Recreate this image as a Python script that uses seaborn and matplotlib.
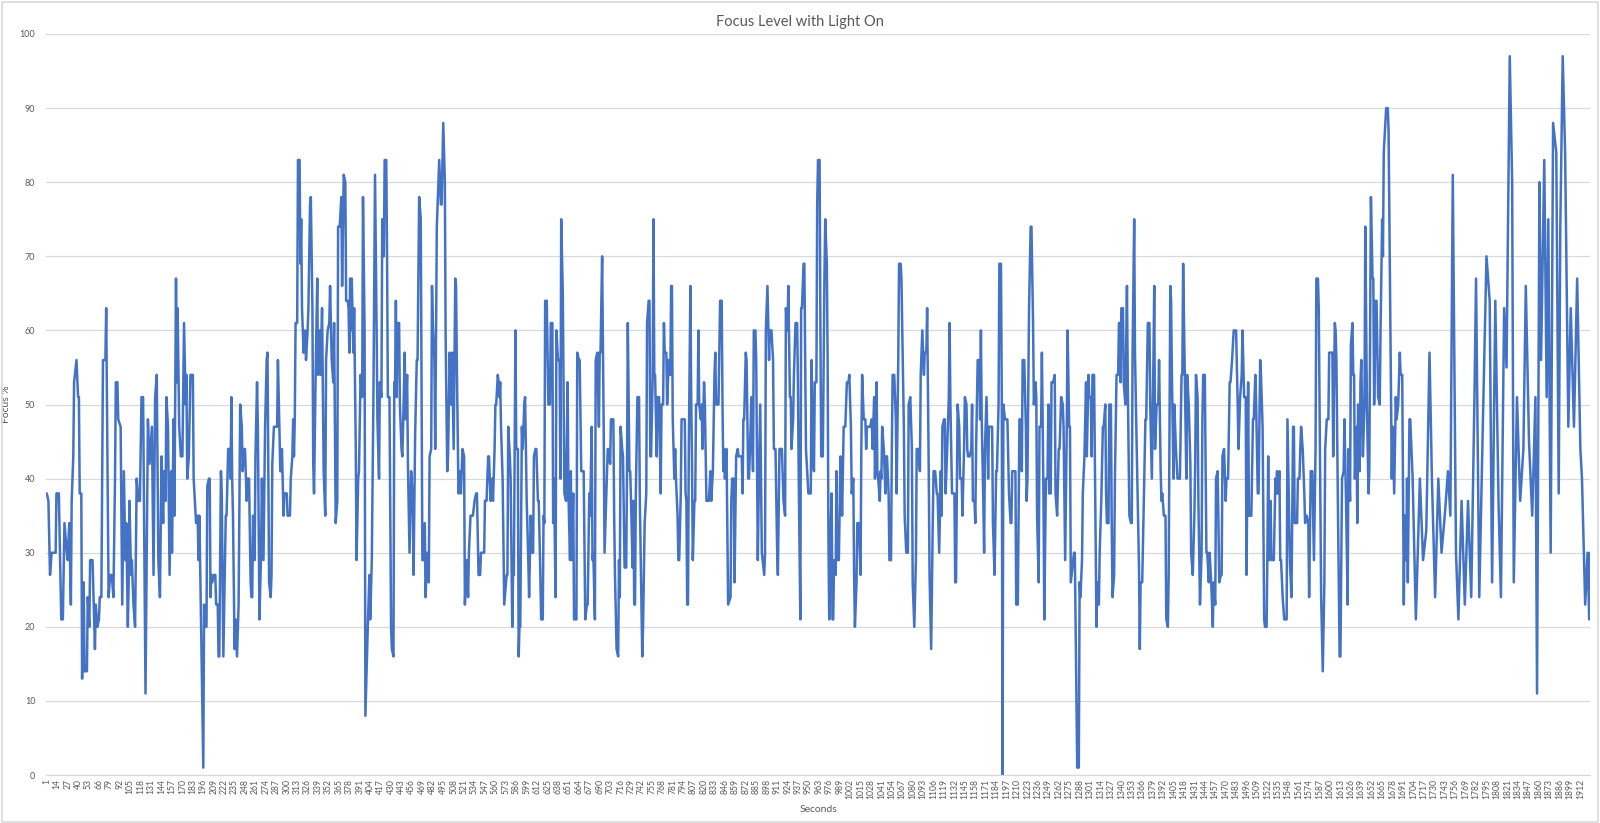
import numpy as np
import matplotlib

matplotlib.use('Agg')
import matplotlib.pyplot as plt
from matplotlib.patches import Rectangle
import seaborn as sns

# Readings taken off the chart: second of the recording and focus level (%)
seconds = [
    1, 3, 5, 7, 12, 13, 16, 19, 21, 23, 26, 27, 29, 31, 32, 34, 35, 38, 40, 41,
    42, 44, 45, 47, 48, 51, 52, 54, 55, 58, 61, 62, 64, 66, 67, 69, 71, 74, 75, 78,
    80, 82, 84, 86, 87, 89, 90, 93, 95, 97, 99, 100, 102, 103, 104, 106, 107, 109, 111, 113,
    115, 117, 119, 121, 124, 127, 129, 132, 134, 136, 138, 140, 142, 144, 146, 147, 149, 150, 152, 154,
    156, 157, 159, 160, 162, 163, 164, 166, 168, 170, 172, 174, 175, 176, 178,
    180, 183, 184, 187, 189, 190, 191, 192, 196, 197, 198, 200, 201, 203, 204, 205, 206, 207, 209, 211,
    212, 214, 215, 216, 218, 219, 221, 224, 225, 227, 229, 230, 231, 232, 233, 235, 236, 238, 240, 242,
    244, 245, 247, 248, 250, 251, 253, 255, 256, 257, 258, 260, 261, 263, 264, 266, 268, 269, 271, 273,
    275, 276, 278, 280, 281, 282, 284, 288, 289, 290, 292, 293, 294, 296, 297, 300, 301, 304, 305, 307,
    308, 309, 310, 311, 313, 314, 316, 317, 318, 319, 321, 323, 324, 326, 327, 329, 330, 332, 333, 334,
    336, 338, 339, 341, 342, 344, 346, 348, 349, 351, 353, 354, 356, 358, 359, 361, 363, 364, 366, 368,
    369, 371,
    373, 374, 376, 377, 378, 379, 380, 381, 383, 384, 386, 387, 389, 390, 392, 394, 395, 397, 398, 401,
    403, 404, 406, 408, 410, 412, 413, 415, 416, 418, 419, 421, 422, 424, 425, 426, 428, 430, 431, 433,
    434, 435, 436, 437, 438, 440, 441, 443, 444, 445, 447, 448, 450, 451, 453, 455, 457, 458, 460, 462,
    463, 465, 467, 468, 469, 471, 472, 473, 475, 477, 478, 480, 481, 482, 484, 485, 487, 488, 490, 492,
    493, 495, 497, 498, 500, 501, 503, 505, 506, 508, 510, 511, 512, 514, 516, 517, 519, 521, 522, 524,
    526, 527, 529, 532, 534, 536, 537, 539, 541, 542, 546, 547, 549, 551, 552, 554, 556, 557, 559, 560,
    561, 563,
    564, 565, 566, 567, 569, 571, 574, 575, 576, 578, 579, 581, 582, 583, 585, 586, 588, 589, 590, 591,
    593, 594, 596, 597, 599, 601, 602, 604, 606, 607, 608, 610, 611, 613, 614, 616, 617, 619, 620, 621,
    622, 624, 625, 626, 628, 629, 631, 632, 633, 635, 636, 638, 640, 641, 642, 644, 646, 648, 650, 651,
    653, 654, 655, 657, 658, 661, 662, 664, 665, 667, 670, 672, 674, 675, 677, 678, 680, 681, 682, 684,
    685, 687, 689, 690, 691, 693, 695, 696, 698, 700, 701, 703, 704, 707, 708, 709, 711, 713, 714, 715,
    716, 718, 719, 721, 723, 724, 725, 727, 728, 729, 731, 732, 733, 734, 735, 737, 739, 740, 742, 743,
    744, 746, 748, 749, 751, 752,
    753, 754, 756, 757, 758, 759, 761, 762, 764, 765, 766, 767, 769, 770, 771, 773, 774, 776, 778, 779,
    780, 781, 783, 784, 785, 787, 788, 789, 791, 792, 796, 797, 798, 799, 800, 801, 803, 804, 805, 806,
    808, 809, 810, 812, 813, 814, 816, 817, 818, 820, 821, 823, 826, 828, 829, 831, 833, 834, 835, 838,
    840, 842, 843, 844, 845, 846, 848, 849, 850, 853, 854, 855, 857, 858, 860, 862, 863, 867, 868, 869,
    870, 872, 873, 875, 876, 877, 879, 881, 882, 884, 885, 887, 888, 890, 892, 893, 895, 896, 897, 899,
    901, 902, 904, 906, 907, 909, 911, 912, 914, 917, 919, 921, 922, 924, 925, 927, 928, 929, 931, 932,
    934, 936, 937, 938, 940, 941,
    942, 944, 945, 946, 947, 949, 950, 953, 954, 956, 957, 958, 960, 961, 962, 964, 965, 966, 968, 970,
    971, 973, 974, 975, 976, 978, 979, 980, 981, 982, 984, 985, 986, 988, 990, 991, 992, 994, 996, 997,
    998, 1000, 1001, 1003, 1004, 1006, 1007, 1008, 1010, 1011, 1013, 1015, 1016, 1017, 1019, 1021, 1022, 1023, 1027, 1029,
    1030, 1032, 1033, 1035, 1036, 1037, 1039, 1040, 1041, 1042, 1044, 1046, 1047, 1048, 1050, 1051, 1053, 1054, 1055, 1057,
    1059, 1060, 1062, 1063, 1065, 1066, 1067, 1069, 1070, 1072, 1074, 1075, 1077, 1079, 1080, 1082, 1084, 1085, 1087, 1089,
    1090, 1092, 1094, 1095, 1097, 1098, 1100, 1101, 1103, 1105, 1106, 1108, 1110, 1111, 1113, 1115, 1116, 1117, 1119, 1120,
    1121, 1123, 1125, 1126, 1127, 1129, 1132,
    1133, 1134, 1136, 1138, 1139, 1141, 1142, 1144, 1145, 1147, 1148, 1149, 1151, 1153, 1154, 1155, 1157, 1158, 1159, 1161,
    1163, 1164, 1165, 1166, 1168, 1169, 1170, 1172, 1174, 1175, 1179, 1180, 1182, 1184, 1185, 1187, 1188, 1190, 1191, 1192,
    1193, 1195, 1198, 1200, 1202, 1203, 1204, 1208, 1209, 1211, 1213, 1214, 1216, 1217, 1219, 1221, 1222, 1223, 1225, 1227,
    1228, 1230, 1231, 1233, 1234, 1235, 1237, 1238, 1240, 1241, 1243, 1244, 1246, 1248, 1249, 1250, 1252, 1253, 1255, 1257,
    1258, 1260, 1262, 1263, 1265, 1267, 1268, 1270, 1272, 1273, 1275, 1276, 1277, 1279, 1281, 1282, 1285, 1287, 1288, 1289,
    1291, 1292, 1294, 1296, 1297, 1299, 1300, 1302, 1303, 1304, 1306, 1307, 1309, 1310, 1312, 1313, 1315, 1317, 1318, 1320,
    1321, 1322, 1324, 1325, 1327, 1328, 1329, 1331, 1332, 1334, 1336, 1337, 1338, 1339, 1340, 1342, 1343, 1345, 1347, 1348,
    1350, 1352, 1353, 1354, 1356, 1357, 1359, 1361, 1362, 1363, 1364, 1366, 1368, 1370, 1371, 1373, 1375, 1376, 1378, 1380,
    1381, 1382, 1384, 1386, 1387, 1389, 1390, 1391, 1393, 1395, 1396, 1398, 1399, 1401, 1402, 1403, 1405, 1406, 1408, 1410,
    1413, 1415, 1416, 1417, 1419, 1421, 1422, 1424, 1426, 1427, 1429, 1431, 1432, 1433, 1435, 1436, 1438, 1440, 1441, 1442,
    1444, 1446, 1447, 1449, 1450, 1452, 1454, 1455, 1457, 1458, 1460, 1461, 1462, 1464, 1465, 1466, 1468, 1470, 1471, 1473,
    1475, 1476, 1478, 1480, 1483, 1485, 1486, 1488, 1490, 1491, 1493, 1495, 1496, 1498, 1499, 1502, 1504, 1505, 1507, 1508,
    1510,
    1511, 1513, 1514, 1516, 1518, 1519, 1521, 1522, 1523, 1524, 1526, 1527, 1530, 1532, 1533, 1534, 1535, 1537, 1538, 1539,
    1541, 1543, 1546, 1547, 1549, 1550, 1552, 1554, 1555, 1556, 1559, 1560, 1562, 1563, 1564, 1566, 1568, 1569, 1571, 1573,
    1574, 1576, 1578, 1579, 1580, 1582, 1583, 1585, 1586, 1588, 1589, 1591, 1593, 1594, 1596, 1598, 1599, 1603, 1604, 1606,
    1607, 1608, 1610, 1612, 1613, 1615, 1617, 1618, 1620, 1622, 1623, 1625, 1626, 1628, 1629, 1630, 1631, 1633, 1634, 1635,
    1637, 1638, 1639, 1641, 1643, 1644, 1646, 1648, 1649, 1651, 1653, 1654, 1655, 1657, 1658, 1660, 1662, 1663, 1665, 1666,
    1667, 1670, 1672, 1673, 1675, 1677, 1678, 1680, 1682, 1683, 1685, 1687, 1688, 1690, 1692, 1693, 1695, 1696, 1697, 1699,
    1700,
    1703, 1707, 1712, 1716, 1720, 1724, 1727, 1731, 1735, 1739, 1743, 1747, 1750, 1753, 1757, 1760, 1764, 1768, 1772, 1776,
    1780, 1782, 1786, 1791, 1795, 1799, 1802, 1806, 1810, 1813, 1817, 1820, 1824, 1827, 1829, 1833, 1837, 1841, 1844, 1848,
    1852, 1856, 1858, 1861, 1863, 1867, 1870, 1872, 1875, 1878, 1882, 1885, 1887, 1890, 1893, 1897, 1900, 1904, 1908, 1912,
    1914, 1918, 1921, 1923, 1924,
]

focus = [
    38, 37, 27, 30, 30, 38, 38, 21, 21, 34, 30, 29, 34, 23, 37, 43, 53, 56, 51, 51,
    38, 38, 13, 26, 14, 14, 24, 20, 29, 29, 17, 23, 20, 21, 24, 24, 56, 56, 63, 24,
    27, 27, 24, 40, 53, 53, 48, 47, 23, 41, 29, 34, 20, 26, 37, 27, 29, 23, 20, 40,
    37, 37, 51, 51, 11, 48, 42, 47, 27, 51, 54, 29, 24, 43, 34, 41, 37, 51, 47, 27,
    41, 30, 48, 35, 67, 53, 63, 47, 43, 43, 61, 50, 54, 40, 43,
    54, 54, 40, 34, 35, 29, 35, 29, 1, 23, 20, 20, 39, 40, 40, 24, 27, 26, 27, 27,
    23, 23, 16, 16, 41, 38, 16, 35, 35, 44, 44, 40, 51, 40, 35, 17, 21, 16, 23, 50,
    47, 41, 44, 44, 37, 40, 40, 26, 24, 24, 35, 29, 43, 53, 47, 21, 30, 40, 29, 47,
    56, 57, 26, 24, 27, 42, 47, 47, 56, 51, 41, 41, 44, 35, 38, 38, 35, 35, 40, 43,
    48, 43, 48, 61, 61, 83, 83, 69, 75, 63, 57, 60, 56, 60, 63, 77, 78, 63, 42, 38,
    54, 67, 54, 60, 54, 63, 41, 35, 56, 60, 61, 66, 56, 53, 61, 34, 37, 74, 74, 78,
    66, 81,
    80, 64, 64, 63, 57, 67, 60, 67, 57, 63, 44, 29, 40, 41, 54, 51, 78, 60, 8, 20,
    27, 21, 29, 51, 81, 60, 48, 40, 53, 51, 75, 70, 83, 83, 70, 51, 51, 20, 17, 16,
    53, 53, 64, 51, 61, 61, 50, 44, 43, 47, 57, 48, 54, 42, 30, 41, 37, 27, 46, 56,
    56, 78, 75, 53, 29, 29, 34, 24, 30, 26, 43, 44, 66, 61, 56, 44, 74, 77, 83, 77,
    77, 88, 80, 59, 41, 43, 57, 50, 57, 44, 67, 66, 55, 38, 41, 38, 44, 43, 23, 29,
    24, 30, 35, 35, 37, 38, 38, 27, 27, 30, 30, 37, 37, 43, 43, 37, 40, 37, 44, 50,
    50, 54,
    53, 51, 53, 47, 40, 23, 27, 27, 47, 43, 40, 20, 27, 27, 60, 44, 44, 16, 20, 20,
    47, 44, 50, 51, 37, 29, 24, 35, 30, 30, 43, 44, 44, 37, 37, 27, 21, 21, 35, 34,
    64, 64, 57, 50, 50, 61, 61, 34, 40, 24, 60, 56, 56, 40, 75, 65, 38, 37, 53, 38,
    29, 41, 29, 38, 21, 21, 57, 56, 56, 41, 41, 21, 23, 23, 38, 35, 47, 29, 30, 21,
    56, 57, 47, 57, 57, 70, 46, 30, 37, 44, 44, 42, 48, 48, 35, 27, 17, 16, 29, 24,
    47, 44, 43, 28, 28, 41, 61, 41, 41, 37, 28, 37, 23, 23, 38, 51, 51, 37, 23, 16,
    20, 34, 38, 61, 64, 64,
    43, 43, 54, 75, 54, 54, 43, 51, 51, 44, 38, 50, 50, 61, 57, 57, 50, 56, 54, 66,
    66, 48, 40, 44, 40, 35, 29, 29, 38, 48, 48, 38, 37, 23, 23, 44, 66, 51, 42, 29,
    37, 37, 50, 50, 60, 50, 48, 50, 44, 53, 50, 37, 37, 41, 37, 41, 54, 57, 50, 50,
    64, 64, 50, 41, 44, 40, 44, 34, 23, 24, 37, 40, 40, 26, 43, 44, 43, 43, 38, 48,
    48, 57, 56, 40, 40, 43, 51, 41, 60, 60, 56, 29, 37, 50, 30, 29, 27, 30, 60, 66,
    56, 60, 60, 56, 44, 44, 31, 27, 44, 44, 37, 35, 63, 60, 66, 51, 51, 44, 48, 54,
    61, 61, 53, 40, 21, 63,
    63, 69, 69, 56, 44, 40, 38, 38, 56, 42, 41, 53, 53, 77, 83, 83, 60, 43, 43, 67,
    75, 69, 56, 32, 21, 34, 38, 21, 21, 29, 27, 41, 29, 29, 43, 41, 35, 47, 47, 50,
    53, 53, 54, 47, 38, 40, 27, 20, 26, 34, 34, 27, 44, 54, 48, 48, 44, 47, 47, 48,
    44, 51, 40, 53, 41, 40, 37, 41, 40, 47, 44, 38, 43, 43, 38, 29, 29, 44, 54, 54,
    48, 38, 56, 69, 69, 67, 60, 47, 35, 30, 30, 50, 51, 44, 26, 20, 29, 44, 44, 41,
    54, 60, 54, 57, 57, 63, 41, 27, 17, 34, 41, 41, 38, 38, 30, 41, 35, 47, 48, 48,
    38, 44, 51, 61, 50, 38, 38,
    26, 26, 50, 47, 40, 40, 35, 44, 51, 50, 44, 43, 43, 44, 50, 37, 37, 34, 44, 56,
    56, 48, 60, 48, 37, 30, 44, 51, 40, 47, 47, 34, 27, 41, 41, 50, 69, 69, 51, 0,
    50, 48, 48, 38, 34, 34, 41, 41, 23, 23, 48, 48, 41, 56, 56, 47, 37, 40, 63, 74,
    74, 61, 50, 53, 51, 35, 26, 47, 47, 57, 37, 21, 40, 40, 50, 38, 38, 53, 53, 54,
    38, 35, 44, 44, 51, 50, 47, 29, 47, 60, 47, 47, 26, 28, 30, 30, 1, 1, 26, 24,
    29, 38, 43, 53, 43, 54, 51, 51, 43, 54, 54, 43, 20, 26, 23, 30, 37, 47, 47, 50,
    38, 34, 34, 50, 50, 34, 24, 27, 40, 54, 54, 61, 61, 53, 63, 63, 53, 50, 66, 53,
    35, 34, 34, 57, 75, 57, 45, 34, 28, 17, 26, 26, 37, 48, 48, 61, 61, 50, 40, 56,
    66, 44, 50, 50, 56, 41, 37, 38, 35, 35, 21, 20, 27, 66, 64, 54, 40, 50, 44, 40,
    40, 54, 54, 69, 54, 40, 54, 50, 42, 30, 27, 35, 42, 54, 51, 37, 23, 30, 48, 54,
    54, 30, 30, 26, 30, 26, 20, 26, 23, 40, 41, 34, 26, 27, 27, 43, 44, 37, 40, 40,
    53, 53, 56, 60, 60, 50, 44, 51, 54, 60, 51, 51, 27, 53, 35, 35, 48, 48, 54, 50,
    38,
    38, 56, 54, 47, 21, 20, 20, 30, 43, 29, 37, 29, 29, 40, 38, 41, 38, 41, 29, 29,
    24, 21, 21, 48, 35, 29, 24, 47, 47, 34, 34, 40, 40, 44, 47, 44, 38, 34, 35, 34,
    24, 41, 41, 35, 29, 44, 67, 67, 63, 38, 24, 14, 26, 44, 48, 48, 57, 57, 43, 61,
    60, 56, 35, 16, 16, 40, 41, 48, 37, 23, 44, 37, 58, 61, 54, 54, 40, 47, 34, 50,
    41, 53, 56, 43, 50, 74, 50, 38, 41, 78, 67, 67, 50, 64, 64, 51, 50, 60, 75, 70,
    84, 90, 90, 87, 64, 40, 47, 38, 51, 48, 50, 57, 54, 54, 23, 35, 29, 40, 26, 48,
    48,
    40, 21, 40, 29, 33, 57, 40, 24, 40, 30, 35, 41, 35, 81, 30, 21, 37, 23, 37, 24,
    51, 67, 24, 50, 70, 64, 26, 64, 37, 24, 63, 55, 97, 80, 26, 51, 37, 44, 66, 45,
    35, 51, 11, 80, 56, 83, 51, 75, 30, 88, 84, 38, 74, 97, 84, 47, 63, 47, 67, 44,
    40, 23, 30, 21, 30,
]

assert len(seconds) == len(focus), (len(seconds), len(focus))

tick_seconds = list(range(1, 1913, 13))
n_seconds = 1924

line_blue = '#4472C4'
text_grey = '#595959'
grid_grey = '#D9D9D9'

sns.set_style('white')
plt.rcParams['font.family'] = ['Lato', 'DejaVu Sans']

fig = plt.figure(figsize=(16, 8.23), dpi=100)
ax = fig.add_axes([0.029, 0.0583, 0.965, 0.9004])

sns.lineplot(x=seconds, y=focus, ax=ax, color=line_blue, linewidth=1.8,
             estimator=None, errorbar=None)

ax.set_xlim(0.5, n_seconds + 0.5)
ax.set_ylim(0, 100)
ax.set_yticks(range(0, 101, 10))
ax.set_xticks(tick_seconds)
ax.set_xticklabels([str(t) for t in tick_seconds], rotation=90, fontsize=6.2,
                   color=text_grey)
ax.tick_params(axis='y', labelsize=6.5, labelcolor=text_grey, length=0, pad=8)
ax.tick_params(axis='x', length=0, pad=3)

ax.yaxis.grid(True, color=grid_grey, linewidth=0.9)
ax.set_axisbelow(True)
for side in ['top', 'right', 'left']:
    ax.spines[side].set_visible(False)
ax.spines['bottom'].set_color(grid_grey)
ax.spines['bottom'].set_linewidth(0.9)

ax.set_xlabel('Seconds', fontsize=7.5, color=text_grey, labelpad=4)
ax.set_ylabel('Focus %', fontsize=7.5, color=text_grey, labelpad=6)
fig.text(0.5, 0.982, 'Focus Level with Light On', ha='center', va='top',
         fontsize=10.5, color=text_grey)

# thin chart-area border like the spreadsheet export
fig.patches.append(Rectangle((0.001, 0.001), 0.998, 0.997, transform=fig.transFigure,
                             fill=False, edgecolor=grid_grey, linewidth=1.2))

fig.savefig('out.png', dpi=100)
plt.close(fig)
